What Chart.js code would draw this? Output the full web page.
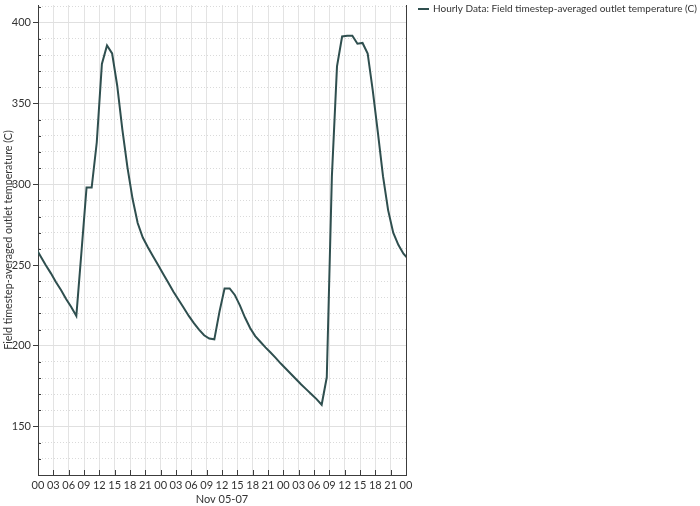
<!DOCTYPE html>
<html>
<head>
<meta charset="utf-8">
<script src="https://cdn.jsdelivr.net/npm/chart.js@4.4.1/dist/chart.umd.min.js"></script>
<style>
  html, body { margin: 0; padding: 0; background: #ffffff; }
  #wrap { width: 700px; height: 506px; position: relative; }
</style>
</head>
<body>
<div id="wrap"><canvas id="chart" width="700" height="506"></canvas></div>
<script>
// Hourly outlet temperature, Nov 05 to Nov 07 (values stamped at mid-hour).
const seriesLabel = 'Hourly Data: Field timestep-averaged outlet temperature (C)';
const temps = [
  261, 255.5, 250, 245, 239.5, 234.5, 229, 224, 218.5, 258,
  298, 298, 326, 374.5, 386, 381, 361, 334, 310.5, 291,
  276, 267, 261, 255.5, 250, 244.5, 239, 233.5, 228.5, 223.5,
  218.5, 214, 210, 206.5, 204.5, 204, 221, 235.5, 235.5, 231.5,
  225, 217.5, 211, 206, 202.5, 199, 195.8, 192.5, 189, 185.8,
  182.5, 179.3, 176, 173, 170, 167, 163.5, 180.5, 305, 373,
  391.5, 392, 392, 387, 387.5, 381, 358, 332, 305, 284,
  270, 262.5, 257, 253.5
];
// hour stamps: -0.5, 0.5, 1.5, ... (first and last fall just outside the axis)
const hours = temps.map((_, i) => i - 0.5);

const xTickValues = [0, 3, 6, 9, 12, 15, 18, 21, 24, 27, 30, 33, 36, 39, 42, 45, 48, 51, 54, 57, 60, 63, 66, 69, 72];
const xTickLabels = ['00','03','06','09','12','15','18','21','00','03','06','09','12','15','18','21','00','03','06','09','12','15','18','21','00'];
const xTitle = 'Nov 05-07';
const yTitle = 'Field timestep-averaged outlet temperature (C)';
const yTickValues = [120,130,140,150,160,170,180,190,200,210,220,230,240,250,260,270,280,290,300,310,320,330,340,350,360,370,380,390,400,410];
const yMajorStep = 50;
const yMin = 120, yMax = 411;

const lineColor = '#2f4f4f';
const textColor = '#333333';
const axisColor = '#3c3c3c';
const FONT = 'Lato, "Open Sans", sans-serif';

Chart.defaults.font.family = FONT;
Chart.defaults.font.size = 11;
Chart.defaults.color = textColor;

const isMajor = v => v % yMajorStep === 0;

// Frame, inward tick marks and the series key beside the plot.
const decorPlugin = {
  id: 'decor',
  afterDraw(chart) {
    const { ctx, chartArea, scales } = chart;
    const { left, right, top, bottom } = chartArea;
    ctx.save();
    ctx.lineWidth = 1;
    ctx.strokeStyle = axisColor;
    ctx.beginPath();
    ctx.moveTo(Math.round(right) + 0.5, Math.round(top));
    ctx.lineTo(Math.round(right) + 0.5, Math.round(bottom));
    ctx.stroke();

    // x ticks point up into the plot
    ctx.beginPath();
    xTickValues.forEach(v => {
      const px = Math.round(scales.x.getPixelForValue(v)) + 0.5;
      ctx.moveTo(px, Math.round(bottom));
      ctx.lineTo(px, Math.round(bottom) - 5);
    });
    ctx.stroke();

    // minor y ticks point right into the plot
    ctx.beginPath();
    yTickValues.filter(v => !isMajor(v)).forEach(v => {
      const py = Math.round(scales.y.getPixelForValue(v)) + 0.5;
      ctx.moveTo(Math.round(left), py);
      ctx.lineTo(Math.round(left) + 3, py);
    });
    ctx.stroke();

    // series key
    const ds = chart.data.datasets[0];
    const kx = right + 12, ky = 9;
    ctx.strokeStyle = ds.borderColor;
    ctx.lineWidth = 2;
    ctx.beginPath();
    ctx.moveTo(kx, ky);
    ctx.lineTo(kx + 11, ky);
    ctx.stroke();
    ctx.fillStyle = textColor;
    ctx.font = '10px ' + FONT;
    ctx.textBaseline = 'middle';
    ctx.textAlign = 'left';
    ctx.fillText(ds.label, kx + 15, ky);
    ctx.restore();
  }
};

new Chart(document.getElementById('chart'), {
  type: 'line',
  data: {
    datasets: [{
      label: seriesLabel,
      data: hours.map((h, i) => ({ x: h, y: temps[i] })),
      borderColor: lineColor,
      backgroundColor: lineColor,
      borderWidth: 2,
      pointRadius: 0,
      tension: 0,
      clip: 0
    }]
  },
  options: {
    responsive: false,
    animation: false,
    layout: { padding: { top: 5, right: 294, left: 0, bottom: 0 } },
    plugins: {
      legend: { display: false },
      tooltip: { enabled: false }
    },
    scales: {
      x: {
        type: 'linear',
        min: 0,
        max: 72,
        afterBuildTicks: s => { s.ticks = xTickValues.map(v => ({ value: v })); },
        afterFit: s => { s.height = 31; s.paddingLeft = 0; s.paddingRight = 0; },
        ticks: {
          autoSkip: false,
          maxRotation: 0,
          padding: 4,
          color: textColor,
          font: { size: 11 },
          callback: (v) => xTickLabels[xTickValues.indexOf(v)]
        },
        grid: { color: '#e3e3e3', drawTicks: false, lineWidth: 1 },
        border: { display: true, color: axisColor, width: 1 },
        title: { display: true, text: xTitle, color: textColor, font: { size: 11 }, padding: { top: 0, bottom: 0 } }
      },
      y: {
        type: 'linear',
        min: yMin,
        max: yMax,
        afterBuildTicks: s => { s.ticks = yTickValues.map(v => ({ value: v })); },
        afterFit: s => { s.width = 38; s.paddingTop = 0; s.paddingBottom = 0; },
        ticks: {
          autoSkip: false,
          padding: 2,
          color: textColor,
          font: { size: 11 },
          callback: v => (isMajor(v) ? String(v) : '')
        },
        grid: {
          color: ctx => (ctx.tick && isMajor(ctx.tick.value) ? '#e0e0e0' : '#dadada'),
          tickColor: ctx => (ctx.tick && isMajor(ctx.tick.value) ? axisColor : 'rgba(0,0,0,0)'),
          tickLength: 5,
          lineWidth: 1
        },
        border: {
          display: true,
          color: axisColor,
          width: 1,
          dash: ctx => (ctx.tick && !isMajor(ctx.tick.value) ? [1, 2] : [])
        },
        title: { display: true, text: yTitle, color: textColor, font: { size: 10.7 }, padding: { top: 2, bottom: 0 } }
      }
    }
  },
  plugins: [decorPlugin]
});
</script>
</body>
</html>
